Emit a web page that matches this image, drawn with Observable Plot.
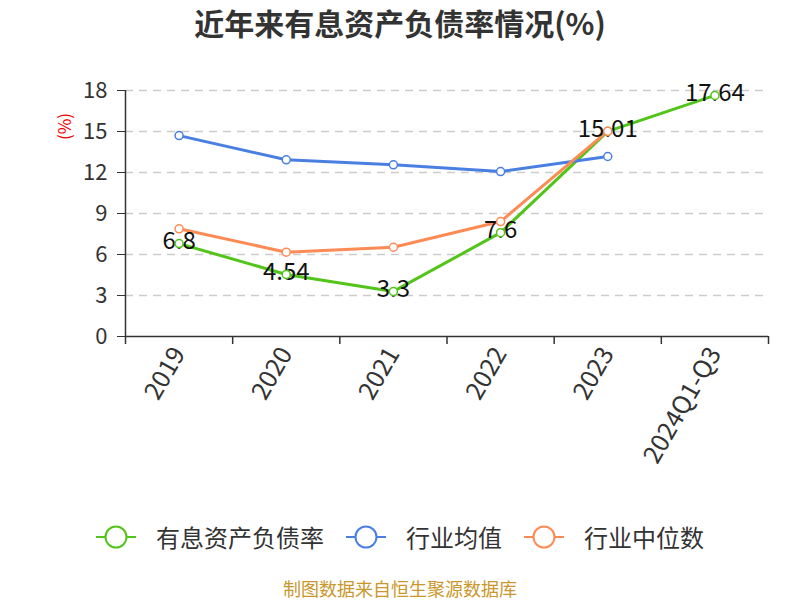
<!DOCTYPE html>
<html><head><meta charset="utf-8">
<script src="https://cdn.jsdelivr.net/npm/d3@7"></script>
<script src="https://cdn.jsdelivr.net/npm/@observablehq/plot@0.6"></script>
<style>
body{margin:0;background:#fff;font-family:"Noto Sans CJK SC","Noto Sans",sans-serif;}
#wrap{position:relative;width:800px;height:600px;}
#chart{position:absolute;left:0;top:0;}
#title{position:absolute;left:0;width:800px;top:0px;line-height:44px;text-align:center;font-size:30px;font-weight:bold;color:#333;}
#unit{position:absolute;left:50px;top:114px;color:#e00;font-size:17px;transform:rotate(-90deg);transform-origin:center;}
#legend{position:absolute;left:0;width:800px;top:521px;line-height:32px;display:flex;justify-content:center;gap:22px;font-size:24px;color:#333;}
.item{display:flex;align-items:center;gap:20px;}
#caption{position:absolute;left:0;width:800px;top:579px;line-height:19px;text-align:center;font-size:18px;color:#c9972c;}
</style></head>
<body><div id="wrap">
<div id="chart"></div>
<div id="title">近年来有息资产负债率情况(%)</div>
<div id="unit">(%)</div>
<div id="legend"></div>
<div id="caption">制图数据来自恒生聚源数据库</div>
</div>
<script>
const categories = ["2019","2020","2021","2022","2023","2024Q1-Q3"];
const debtRatio = [6.8, 4.54, 3.3, 7.6, 15.01, 17.64];
const industryMean = [14.7, 12.93, 12.56, 12.07, 13.17, null];
const industryMedian = [7.88, 6.17, 6.53, 8.41, 15.02, null];
const yTicks = [0, 3, 6, 9, 12, 15, 18];
const seriesNames = ["有息资产负债率", "行业均值", "行业中位数"];
const colors = ["#52c41a", "#4a7fe2", "#fd8b55"];

const seriesValues = [debtRatio, industryMean, industryMedian];
const rows = seriesValues.map((vals, s) =>
  vals.map((v, i) => ({s, i, cat: categories[i], v})).filter(d => d.v != null));
const labelRows = rows[0];
const boundaries = d3.range(categories.length + 1);
const centers = categories.map((c, i) => i + 0.5);

const marks = [
  Plot.ruleY(yTicks.filter(t => t > 0), {stroke: "#ccc", strokeWidth: 1.5, strokeDasharray: "8,6"}),
  Plot.axisY({ticks: yTicks, tickSize: 8, tickPadding: 10, fontSize: 22, color: "#333", label: null, tickFormat: d => String(d)}),
  Plot.axisX({ticks: boundaries, tickSize: 8, tickFormat: () => "", label: null, stroke: "#333", strokeWidth: 1.5}),
  Plot.axisX({ticks: centers, tickSize: 0, tickPadding: 13, tickRotate: -60, fontSize: 25, color: "#333",
    tickFormat: d => categories[Math.round(d - 0.5)], label: null}),
  Plot.ruleY([0], {stroke: "#333", strokeWidth: 1.5}),
  Plot.ruleX([0], {y1: 0, y2: 18, stroke: "#333", strokeWidth: 1.5}),
];
rows.forEach((r, s) => {
  marks.push(Plot.line(r, {x: d => d.i + 0.5, y: "v", stroke: colors[s], strokeWidth: 3}));
});
marks.push(Plot.text(labelRows, {x: d => d.i + 0.5, y: "v", text: d => String(d.v), fontSize: 24, fill: "#111", dy: -2}));
rows.forEach((r, s) => {
  marks.push(Plot.dot(r, {x: d => d.i + 0.5, y: "v", r: 4, fill: "white", stroke: colors[s], strokeWidth: 1.5}));
});

const chart = Plot.plot({
  width: 800, height: 600,
  marginTop: 90, marginBottom: 264, marginLeft: 125, marginRight: 32,
  style: {fontFamily: '"Noto Sans CJK SC","Noto Sans",sans-serif', background: "transparent", overflow: "visible"},
  x: {type: "linear", domain: [0, categories.length]},
  y: {domain: [0, 18]},
  marks
});
document.getElementById("chart").appendChild(chart);

const legend = document.getElementById("legend");
seriesNames.forEach((n, s) => {
  const it = document.createElement("div");
  it.className = "item";
  it.innerHTML = `<svg width="40" height="26"><line x1="0" y1="13" x2="40" y2="13" stroke="${colors[s]}" stroke-width="2"/><circle cx="20" cy="13" r="10.5" fill="white" stroke="${colors[s]}" stroke-width="2"/></svg><span>${n}</span>`;
  legend.appendChild(it);
});
</script></body></html>
